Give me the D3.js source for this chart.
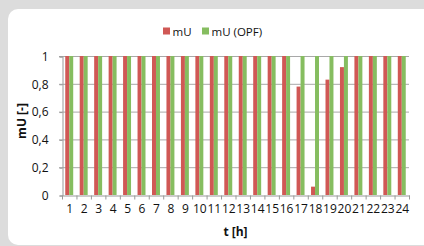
<!DOCTYPE html>
<html lang="en">
<head>
    <title>mU</title>
    <script src="https://d3js.org/d3.v7.min.js"></script>
    <style>
        body { margin: 0; background: #dcdcdc; }
        text { font-family: "Open Sans", sans-serif; fill: #111; }
        .tick text { font-size: 12px; fill: #111; }
        .grid line { stroke: #a8a8a8; }
    </style>
</head>
<body>

<script>
    const hours = d3.range(1, 25).map(String);
    const mU = [1,1,1,1,1,1,1,1,1,1,1,1,1,1,1,1,0.78,0.06,0.83,0.92,1,1,1,1];
    const mUopf = [1,1,1,1,1,1,1,1,1,1,1,1,1,1,1,1,1,1,1,1,1,1,1,1];
    const yTicks = [0, 0.2, 0.4, 0.6, 0.8, 1];
    const seriesNames = ["mU", "mU (OPF)"];
    const colors = ["#d05855", "#86bd60"];
    const series = [mU, mUopf];

    const svg = d3.select("body").append("svg").attr("width", 424).attr("height", 246);
    svg.append("rect").attr("x", 8).attr("y", 9).attr("width", 430).attr("height", 236)
        .attr("rx", 10).attr("fill", "#fff");

    const x = d3.scaleBand().domain(hours).range([62, 409]);
    const y = d3.scaleLinear().domain([0, 1]).range([195, 56]);
    const groupW = x.bandwidth() * 0.55;
    const xs = d3.scaleBand().domain(seriesNames).range([0, groupW]);

    // grid
    svg.append("g").attr("class", "grid")
        .selectAll("line").data(yTicks.slice(1)).join("line")
        .attr("x1", 59).attr("x2", 409)
        .attr("y1", d => y(d) + 0.5).attr("y2", d => y(d) + 0.5);

    // bars
    series.forEach((vals, i) => {
        svg.append("g").selectAll("rect").data(vals).join("rect")
            .attr("x", (d, j) => x(hours[j]) + (x.bandwidth() - groupW) / 2 + xs(seriesNames[i]))
            .attr("width", xs.bandwidth())
            .attr("y", d => y(d))
            .attr("height", d => y(0) - y(d))
            .attr("fill", colors[i]);
    });

    // y axis
    const yAxis = svg.append("g").attr("transform", "translate(62.5,0.5)")
        .call(d3.axisLeft(y).tickValues(yTicks).tickSize(3).tickPadding(11)
            .tickFormat(d => String(d).replace(".", ",")));
    yAxis.select(".domain").attr("stroke", "#999");
    yAxis.selectAll(".tick line").attr("stroke", "#999");

    // x axis
    const xAxis = svg.append("g").attr("transform", "translate(0.5,195.5)")
        .call(d3.axisBottom(x).tickSize(0).tickPadding(9));
    xAxis.select(".domain").attr("stroke", "#999");
    xAxis.selectAll(".tick line").remove();
    xAxis.append("g").selectAll("line").data(hours.concat("end")).join("line")
        .attr("x1", (d, j) => 62 + j * x.step()).attr("x2", (d, j) => 62 + j * x.step())
        .attr("y1", 0).attr("y2", 4).attr("stroke", "#999");

    // titles
    svg.append("text").attr("x", 235.5).attr("y", 235.5).attr("text-anchor", "middle")
        .attr("font-size", "12px").attr("font-weight", "bold").text("t [h]");
    svg.append("text").attr("transform", "translate(26,121) rotate(-90)").attr("text-anchor", "middle")
        .attr("font-size", "12px").attr("font-weight", "bold").text("mU [-]");

    // legend
    const leg = svg.append("g");
    const legX = [163, 202];
    seriesNames.forEach((n, i) => {
        leg.append("rect").attr("x", legX[i]).attr("y", 27.5).attr("width", 7).attr("height", 7)
            .attr("fill", colors[i]);
        leg.append("text").attr("x", legX[i] + 9.5).attr("y", 35.5).attr("font-size", "11.5px").text(n);
    });
</script>

</body>
</html>
